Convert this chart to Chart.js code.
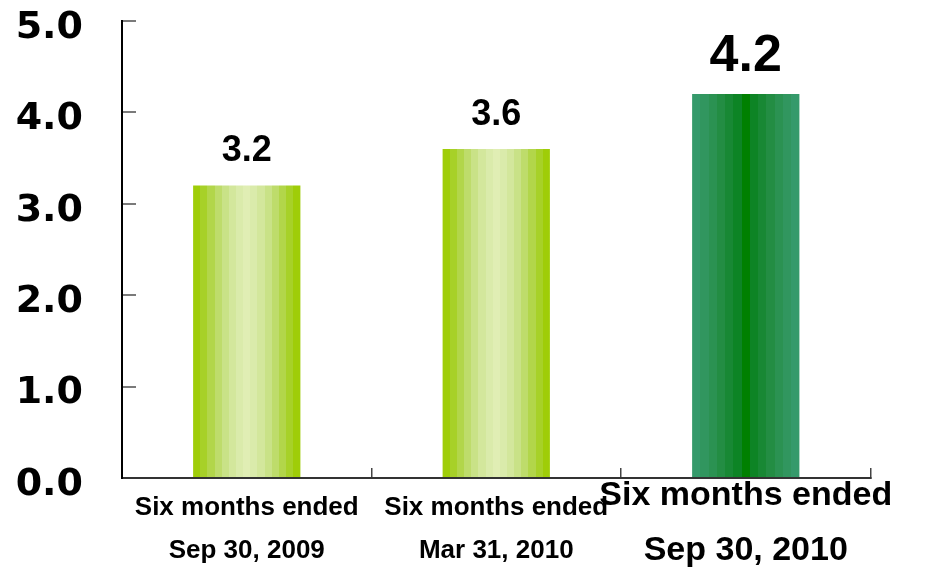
<!DOCTYPE html>
<html>
<head>
<meta charset="utf-8">
<script src="https://cdn.jsdelivr.net/npm/chart.js@4/dist/chart.umd.min.js"></script>
<style>
  html, body { margin: 0; padding: 0; background: #ffffff; }
  #wrap { width: 929px; height: 570px; }
</style>
</head>
<body>
<div id="wrap"><canvas id="growth-chart"></canvas></div>
<script>
var periods = [
    ["Six months ended", "Sep 30, 2009"],
    ["Six months ended", "Mar 31, 2010"],
    ["Six months ended", "Sep 30, 2010"]
];
var amounts = [3.2, 3.6, 4.2];
var y_ticks = [0, 1, 2, 3, 4, 5];

// vertical stripe shades, edge -> centre (mirrored for the right half)
var light_stripes = ["#9fcd08", "#a7d128", "#b2d64a", "#bedc6b", "#c9e287", "#d3e79c", "#daebab", "#e0eeb4"];
var dark_stripes = ["#359a6b", "#31965f", "#2b9252", "#238d43", "#188834", "#0d8425", "#008000"];
var label_sizes = [36, 36, 52];

function stripeFill(ctx, left, right, shades) {
    var full = shades.concat(shades.slice(0, -1).reverse());
    var grad = ctx.createLinearGradient(left, 0, right, 0);
    var n = full.length;
    for (var i = 0; i < n; i++) {
        grad.addColorStop(i / n, full[i]);
        grad.addColorStop((i + 1) / n - 0.0001, full[i]);
    }
    return grad;
}

function barColor(context) {
    var chart = context.chart;
    var shades = context.dataIndex === 2 ? dark_stripes : light_stripes;
    var xs = chart.scales.x;
    if (!xs || !chart.chartArea) return shades[0];
    var centre = xs.getPixelForValue(context.dataIndex);
    var half = (xs.width / periods.length) * 0.43 / 2;
    return stripeFill(chart.ctx, centre - half, centre + half, shades);
}

// numbers written above each bar
var valueLabels = {
    id: 'valueLabels',
    afterDatasetsDraw: function (chart) {
        var ctx = chart.ctx;
        var meta = chart.getDatasetMeta(0);
        ctx.save();
        ctx.fillStyle = '#000000';
        ctx.textAlign = 'center';
        ctx.textBaseline = 'middle';
        meta.data.forEach(function (bar, i) {
            var size = label_sizes[i];
            ctx.font = 'bold ' + size + 'px "Liberation Sans", Arial, sans-serif';
            ctx.fillText(amounts[i].toFixed(1), bar.x, bar.y - (size > 40 ? 37 : 34));
        });
        ctx.restore();
    }
};

var growthChart = new Chart(document.getElementById("growth-chart"), {
    type: 'bar',
    data: {
        labels: periods,
        datasets: [{
            data: amounts,
            backgroundColor: barColor,
            borderWidth: 0,
            barPercentage: 0.43,
            categoryPercentage: 1.0
        }]
    },
    options: {
        responsive: true,
        maintainAspectRatio: false,
        animation: false,
        layout: { padding: { top: 21, right: 53, left: 0, bottom: 0 } },
        plugins: {
            legend: { display: false },
            tooltip: { enabled: false }
        },
        scales: {
            x: {
                grid: {
                    offset: true,
                    drawOnChartArea: false,
                    tickLength: -10,
                    color: '#444444',
                    lineWidth: 1.5
                },
                border: { color: '#333333', width: 2 },
                ticks: {
                    color: '#000000',
                    padding: 28,
                    maxRotation: 0,
                    autoSkip: false,
                    crossAlign: 'center',
                    font: function (context) {
                        var big = context.index === 2;
                        return {
                            family: '"Liberation Sans", Arial, sans-serif',
                            weight: 'bold',
                            size: big ? 34 : 26,
                            lineHeight: big ? 1.6 : 1.64
                        };
                    }
                },
                afterFit: function (scale) { scale.height = 92; }
            },
            y: {
                min: 0,
                max: 5,
                afterBuildTicks: function (scale) {
                    scale.ticks = y_ticks.map(function (v) { return { value: v }; });
                },
                grid: {
                    drawOnChartArea: false,
                    tickLength: -14,
                    color: '#7a7a7a',
                    lineWidth: 2
                },
                border: { color: '#000000', width: 2 },
                ticks: {
                    color: '#000000',
                    padding: 53,
                    labelOffset: 7,
                    font: {
                        family: '"DejaVu Sans", sans-serif',
                        weight: 'bold',
                        size: 38
                    },
                    callback: function (value) { return Number(value).toFixed(1); }
                },
                afterFit: function (scale) {
                    scale.width = 122;
                    scale.paddingTop = 0;
                    scale.paddingBottom = 0;
                }
            }
        }
    },
    plugins: [valueLabels]
});
</script>
</body>
</html>
